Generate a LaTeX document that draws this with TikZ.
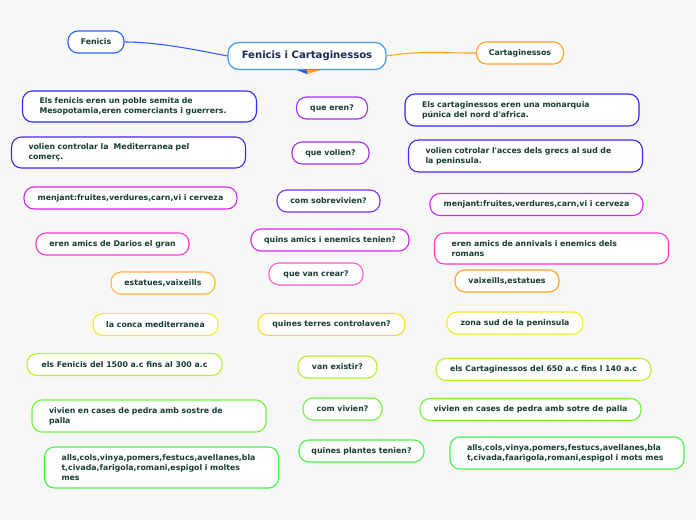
\documentclass[tikz,border=0pt]{standalone}
\usepackage{fontspec}
\setmainfont{DejaVu Sans}
\usepackage{xcolor}
\usepackage{tikz}
\definecolor{mapbg}{HTML}{F7F7F7}
\definecolor{txtgreen}{HTML}{173D2C}
\definecolor{txtnavy}{HTML}{1B2A55}
\definecolor{rootline}{HTML}{3D9BE0}
\definecolor{fenblue}{HTML}{2F5FFF}
\definecolor{cartorange}{HTML}{FFA01E}
\definecolor{ansblue}{HTML}{2A2AFF}
\definecolor{ansviolet}{HTML}{4A22F2}
\definecolor{qpurple}{HTML}{A52CF5}
\definecolor{qviolet}{HTML}{7030FF}
\definecolor{foodmag}{HTML}{D424F0}
\definecolor{friendpink}{HTML}{FF36C8}
\definecolor{qpink}{HTML}{FF5CC4}
\definecolor{artorange}{HTML}{FFB43A}
\definecolor{landyellow}{HTML}{F2EE24}
\definecolor{qyellow}{HTML}{FFD826}
\definecolor{timelime}{HTML}{B8F028}
\definecolor{houselime}{HTML}{6EF23A}
\definecolor{plantgreen}{HTML}{48F048}

\begin{document}
\begin{tikzpicture}[x=1pt,y=-1pt,
        root/.style={rectangle,draw=rootline,fill=white,rounded corners=11pt,
                     line width=1.2pt,minimum width=158pt,minimum height=27pt,
                     font=\bfseries\fontsize{10.1}{12}\selectfont,text=txtnavy},
        leaf/.style={rectangle,draw,fill=white,rounded corners=10pt,
                     line width=1.1pt,minimum height=22pt,inner xsep=6pt,
                     font=\bfseries\fontsize{7.8}{10}\selectfont,text=txtgreen},
        wide/.style={leaf,text width=200pt,align=left,inner xsep=17pt,
                     minimum height=31pt}]
      %% -- background -------------------------------------------
      \fill[mapbg] (0,0) rectangle (696,520);
      \useasboundingbox (0,0) rectangle (696,520);
      %% -- central topic and main branches -----------------------
      \node[root] (top) at (307,56) {Fenicis i Cartaginessos};
      \node[leaf,draw=fenblue,minimum width=56pt] (fen) at (96,42) {Fenicis};
      \node[leaf,draw=cartorange,minimum width=87pt] (cart) at (520,53) {Cartaginessos};
      \draw[fenblue,line width=1.1pt] (top.west) .. controls +(-40,-8) and +(30,0) .. (fen.east);
      \draw[cartorange,line width=1.1pt] (top.east) .. controls +(30,-5) and +(-40,0) .. (cart.west);
      \fill[fenblue]    (top.south) ++(-10,0) -- ++(10,4) -- ++(0,-4) -- cycle;
      \fill[cartorange] (top.south) -- ++(0,4) -- ++(13,-4) -- cycle;
      %% -- questions (middle column) ----------------------------
      \node[leaf,draw=qpurple,minimum width=71pt]     (q1) at (332,108)   {que eren?};
      \node[leaf,draw=qpurple,minimum width=77pt]     (q2) at (330.5,153) {que volien?};
      \node[leaf,draw=qviolet,minimum width=103pt]    (q3) at (328.5,201) {com sobrevivien?};
      \node[leaf,draw=foodmag,minimum width=158pt]    (q4) at (330,240)   {quins amics i enemics tenien?};
      \node[leaf,draw=qpink,minimum width=94pt]       (q5) at (316,274)   {que van crear?};
      \node[leaf,draw=qyellow,minimum width=147pt]    (q6) at (331.5,324.5) {quines terres controlaven?};
      \node[leaf,draw=timelime,minimum width=79pt]    (q7) at (337.5,367) {van existir?};
      \node[leaf,draw=houselime,minimum width=79pt]   (q8) at (342.5,409) {com vivien?};
      \node[leaf,draw=plantgreen,minimum width=125pt] (q9) at (361.5,451) {quines plantes tenien?};
      %% -- Fenicis answers (left column) -------------------------
      \node[wide,draw=ansblue]   (f1) at (139.5,106.5) {Els fenicis eren un poble semita de\\Mesopotamia,eren comerciants i guerrers.};
      \node[wide,draw=ansviolet] (f2) at (128.5,152.5) {volien controlar la\ \ Mediterranea pel\\comerç.};
      \node[leaf,draw=foodmag,minimum width=213pt]   (f3) at (130.5,198) {menjant:fruites,verdures,carn,vi i cerveza};
      \node[leaf,draw=friendpink,minimum width=153pt](f4) at (112.5,244) {eren amics de Darios el gran};
      \node[leaf,draw=artorange,minimum width=104pt] (f5) at (163,283)   {estatues,vaixeills};
      \node[leaf,draw=landyellow,minimum width=125pt](f6) at (155.5,324.5) {la conca mediterranea};
      \node[leaf,draw=timelime,minimum width=195pt]  (f7) at (124.5,364.5) {els Fenicis del 1500 a.c fins al 300 a.c};
      \node[wide,draw=houselime,minimum height=32pt] (f8) at (149,416) {vivien en cases de pedra amb sostre de\\palla};
      \node[wide,draw=plantgreen,minimum height=41pt](f9) at (161.5,467.5) {alls,cols,vinya,pomers,festucs,avellanes,bla\\t,civada,farigola,romani,espigol i moltes\\mes};
      %% -- Cartaginessos answers (right column) ------------------
      \node[wide,draw=ansblue,minimum height=32pt]   (c1) at (522,110)   {Els cartaginessos eren una monarquia\\púnica del nord d\textquotesingle africa.};
      \node[wide,draw=ansviolet,minimum height=32pt] (c2) at (525.5,156) {volien cotrolar l\textquotesingle acces dels grecs al sud de\\la peninsula.};
      \node[leaf,draw=foodmag,minimum width=213pt]   (c3) at (536.5,204.5) {menjant:fruites,verdures,carn,vi i cerveza};
      \node[wide,draw=friendpink]                    (c4) at (551.5,248.5) {eren amics de annivals i enemics dels\\romans};
      \node[leaf,draw=cartorange,minimum width=104pt](c5) at (507,281)   {vaixeills,estatues};
      \node[leaf,draw=landyellow,minimum width=136pt](c6) at (515,323)   {zona sud de la peninsula};
      \node[leaf,draw=timelime,minimum width=215pt]  (c7) at (543.5,369.5) {els Cartaginessos del 650 a.c fins l 140 a.c};
      \node[leaf,draw=houselime,minimum width=221pt] (c8) at (530.5,409.5) {vivien en cases de pedra amb sotre de palla};
      \node[wide,draw=plantgreen,minimum height=32pt](c9) at (567,453)   {alls,cols,vinya,pomers,festucs,avellanes,bla\\t,civada,faarigola,romani,espigol i mots mes};
    \end{tikzpicture}
\end{document}
